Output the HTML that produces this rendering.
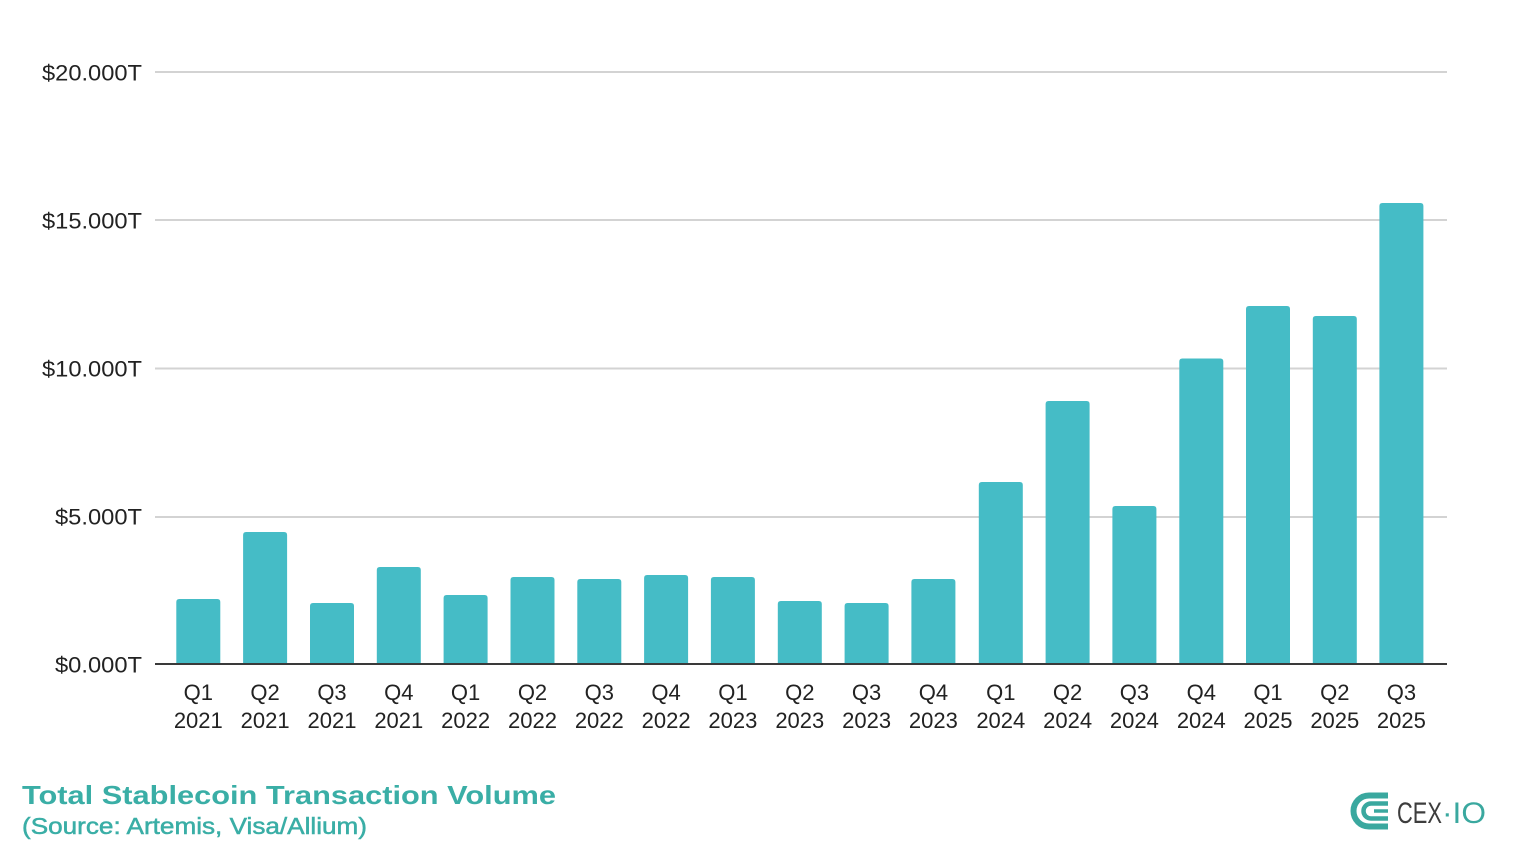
<!DOCTYPE html>
<html>
<head>
<meta charset="utf-8">
<style>
  html, body { margin: 0; padding: 0; background: #ffffff; }
  body { width: 1513px; height: 847px; overflow: hidden; }
  svg { display: block; }
  text { font-family: "Liberation Sans", Arial, sans-serif; }
</style>
</head>
<body>
<svg width="1513" height="847" viewBox="0 0 1513 847" xmlns="http://www.w3.org/2000/svg">
  <rect x="0" y="0" width="1513" height="847" fill="#ffffff"/>

  <!-- gridlines -->
  <g stroke="#d3d3d3" stroke-width="2">
    <line x1="155" y1="72" x2="1447" y2="72"/>
    <line x1="155" y1="220" x2="1447" y2="220"/>
    <line x1="155" y1="368.5" x2="1447" y2="368.5"/>
    <line x1="155" y1="517" x2="1447" y2="517"/>
  </g>

  <!-- y labels -->
  <g font-size="22" fill="#222" text-anchor="end">
    <text x="142" y="80.5" textLength="100" lengthAdjust="spacingAndGlyphs">$20.000T</text>
    <text x="142" y="228.5" textLength="100" lengthAdjust="spacingAndGlyphs">$15.000T</text>
    <text x="142" y="376.5" textLength="100" lengthAdjust="spacingAndGlyphs">$10.000T</text>
    <text x="142" y="524.5" textLength="87" lengthAdjust="spacingAndGlyphs">$5.000T</text>
    <text x="142" y="672.5" textLength="87" lengthAdjust="spacingAndGlyphs">$0.000T</text>
  </g>

  <!-- bars -->
  <g fill="#45bcc6">
    <path d="M176.3,664 V602 Q176.3,599 179.3,599 H217.3 Q220.3,599 220.3,602 V664 Z"/>
    <path d="M243.1,664 V535 Q243.1,532 246.1,532 H284.1 Q287.1,532 287.1,535 V664 Z"/>
    <path d="M310,664 V606 Q310,603 313,603 H351 Q354,603 354,606 V664 Z"/>
    <path d="M376.8,664 V570 Q376.8,567 379.8,567 H417.8 Q420.8,567 420.8,570 V664 Z"/>
    <path d="M443.6,664 V598 Q443.6,595 446.6,595 H484.6 Q487.6,595 487.6,598 V664 Z"/>
    <path d="M510.5,664 V580 Q510.5,577 513.5,577 H551.5 Q554.5,577 554.5,580 V664 Z"/>
    <path d="M577.3,664 V582 Q577.3,579 580.3,579 H618.3 Q621.3,579 621.3,582 V664 Z"/>
    <path d="M644.1,664 V578 Q644.1,575 647.1,575 H685.1 Q688.1,575 688.1,578 V664 Z"/>
    <path d="M710.9,664 V580 Q710.9,577 713.9,577 H751.9 Q754.9,577 754.9,580 V664 Z"/>
    <path d="M777.8,664 V604 Q777.8,601 780.8,601 H818.8 Q821.8,601 821.8,604 V664 Z"/>
    <path d="M844.6,664 V606 Q844.6,603 847.6,603 H885.6 Q888.6,603 888.6,606 V664 Z"/>
    <path d="M911.4,664 V582 Q911.4,579 914.4,579 H952.4 Q955.4,579 955.4,582 V664 Z"/>
    <path d="M978.8,664 V485 Q978.8,482 981.8,482 H1019.8 Q1022.8,482 1022.8,485 V664 Z"/>
    <path d="M1045.6,664 V404 Q1045.6,401 1048.6,401 H1086.6 Q1089.6,401 1089.6,404 V664 Z"/>
    <path d="M1112.4,664 V509 Q1112.4,506 1115.4,506 H1153.4 Q1156.4,506 1156.4,509 V664 Z"/>
    <path d="M1179.3,664 V361.5 Q1179.3,358.5 1182.3,358.5 H1220.3 Q1223.3,358.5 1223.3,361.5 V664 Z"/>
    <path d="M1246,664 V309 Q1246,306 1249,306 H1287 Q1290,306 1290,309 V664 Z"/>
    <path d="M1312.8,664 V319 Q1312.8,316 1315.8,316 H1353.8 Q1356.8,316 1356.8,319 V664 Z"/>
    <path d="M1379.4,664 V206 Q1379.4,203 1382.4,203 H1420.4 Q1423.4,203 1423.4,206 V664 Z"/>
  </g>

  <!-- baseline -->
  <line x1="155" y1="664" x2="1447" y2="664" stroke="#3a3a3a" stroke-width="2"/>

  <!-- x labels -->
  <g font-size="22" fill="#222" text-anchor="middle">
    <text x="198.3" y="700">Q1</text><text x="198.3" y="728">2021</text>
    <text x="265.1" y="700">Q2</text><text x="265.1" y="728">2021</text>
    <text x="332" y="700">Q3</text><text x="332" y="728">2021</text>
    <text x="398.8" y="700">Q4</text><text x="398.8" y="728">2021</text>
    <text x="465.6" y="700">Q1</text><text x="465.6" y="728">2022</text>
    <text x="532.5" y="700">Q2</text><text x="532.5" y="728">2022</text>
    <text x="599.3" y="700">Q3</text><text x="599.3" y="728">2022</text>
    <text x="666.1" y="700">Q4</text><text x="666.1" y="728">2022</text>
    <text x="732.9" y="700">Q1</text><text x="732.9" y="728">2023</text>
    <text x="799.8" y="700">Q2</text><text x="799.8" y="728">2023</text>
    <text x="866.6" y="700">Q3</text><text x="866.6" y="728">2023</text>
    <text x="933.4" y="700">Q4</text><text x="933.4" y="728">2023</text>
    <text x="1000.8" y="700">Q1</text><text x="1000.8" y="728">2024</text>
    <text x="1067.6" y="700">Q2</text><text x="1067.6" y="728">2024</text>
    <text x="1134.4" y="700">Q3</text><text x="1134.4" y="728">2024</text>
    <text x="1201.3" y="700">Q4</text><text x="1201.3" y="728">2024</text>
    <text x="1268" y="700">Q1</text><text x="1268" y="728">2025</text>
    <text x="1334.8" y="700">Q2</text><text x="1334.8" y="728">2025</text>
    <text x="1401.4" y="700">Q3</text><text x="1401.4" y="728">2025</text>
  </g>

  <!-- title -->
  <text x="22" y="804" font-size="26" font-weight="bold" fill="#3aaea6" textLength="534" lengthAdjust="spacingAndGlyphs">Total Stablecoin Transaction Volume</text>
  <text x="22" y="834" font-size="23" fill="#3aaea6" stroke="#3aaea6" stroke-width="0.5" textLength="345" lengthAdjust="spacingAndGlyphs">(Source: Artemis, Visa/Allium)</text>

  <!-- logo -->
  <g fill="none" stroke="#3aa89f" stroke-linecap="butt">
    <path d="M1388,795.5 H1369 A15.5,15.5 0 0 0 1369,826.5 H1388" stroke-width="6"/>
    <path d="M1388,803.5 H1371 A7.5,7.5 0 0 0 1371,818.5 H1388" stroke-width="4.5"/>
    <path d="M1374,811 H1388" stroke-width="3.5"/>
  </g>
  <text x="1397" y="823" font-size="30" fill="#3d3d3d" textLength="45" lengthAdjust="spacingAndGlyphs">CEX</text>
  <text x="1442" y="823" font-size="30" fill="#3aa89f" textLength="44" lengthAdjust="spacingAndGlyphs">·IO</text>
</svg>
</body>
</html>
